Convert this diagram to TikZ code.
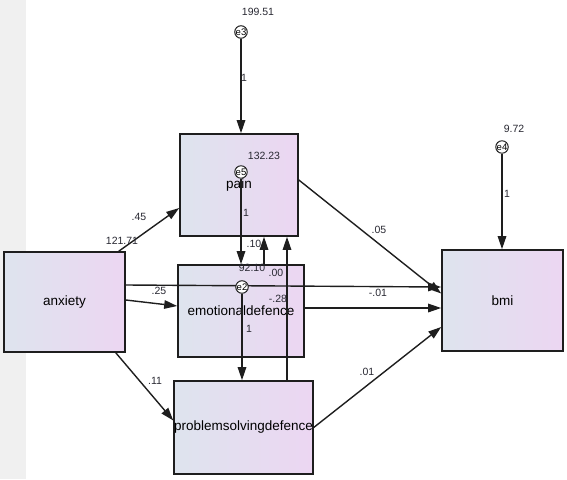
\documentclass[tikz,border=0pt]{standalone}
\usepackage{fontspec}
\setmainfont{Liberation Sans}
\usetikzlibrary{arrows.meta,calc}
\definecolor{amedge}{RGB}{30,30,30}
\definecolor{amleft}{RGB}{222,228,238}
\definecolor{amright}{RGB}{236,214,242}
\definecolor{amstrip}{RGB}{240,240,240}
\definecolor{amnum}{RGB}{40,40,50}
\tikzset{
  var/.style={
    draw=amedge, line width=1.6pt, left color=amleft, right color=amright,
    font=\fontsize{13.5}{15}\selectfont, inner sep=0pt
  },
  err/.style={
    circle, draw=amedge, line width=1pt, fill=white, minimum size=12pt,
    inner sep=0pt, font=\fontsize{9.5}{10}\selectfont
  },
  arr/.style={-{Triangle[length=13pt,width=8.5pt]}, draw=amedge, line width=1.4pt},
  lbl/.style={font=\fontsize{10.5}{12}\selectfont, text=amnum, inner sep=0pt}
}
\begin{document}
\begin{tikzpicture}[x=1pt,y=-1pt]
  \useasboundingbox (0,0) rectangle (567,479);
  \fill[amstrip] (0,0) rectangle (26,479);

  \node[var, minimum width=121pt, minimum height=100pt] (anx) at (64.5,302) {anxiety};
  \node[var, minimum width=118pt, minimum height=102pt] (pain) at (239,185) {pain};
  \node[var, minimum width=126pt, minimum height=92pt] (emo) at (241,311) {emotionaldefence};
  \node[var, minimum width=127pt, minimum height=93pt] (psd) at (243.5,427.5) {problemsolvingdefence};
  \node[var, minimum width=121pt, minimum height=101pt] (bmi) at (502.5,300.5) {bmi};

  \node[err] (e3) at (241,32) {e3};
  \node[err] (e4) at (502,147) {e4};

  \draw[arr] (e3) -- (e3 |- pain.north);
  \draw[arr] (e4) -- (e4 |- bmi.north);
  \draw[arr] ($(anx.north east)+(-7,0)$) -- ($(pain.west)+(0,23)$);
  \draw[arr] ($(anx.east)+(0,-2)$) -- ($(emo.west)+(0,-5)$);
  \draw[arr] ($(anx.east)+(0,-17)$) -- ($(bmi.west)+(0,-13.5)$);
  \draw[arr] ($(anx.south east)+(-10,0)$) -- ($(psd.west)+(0,-7)$);
  \draw[arr] ($(pain.east)+(0,-5)$) -- ($(bmi.west)+(0,-7)$);
  \draw[arr] ($(emo.east)+(0,-3)$) -- ($(bmi.west)+(0,7.5)$);
  \draw[arr] (psd.east) -- ($(bmi.west)+(0,26.5)$);
  \draw[arr] ($(emo.north)+(23,0)$) -- ($(pain.south)+(25,0)$);
  \draw[arr] ($(psd.north)+(43.5,0)$) -- ($(pain.south)+(48,0)$);

  \node[err] (e5) at (241,172) {e5};
  \node[err] (e2) at (242,287) {e2};
  \draw[arr] (e5) -- (e5 |- emo.north);
  \draw[arr] (e2) -- (e2 |- psd.north);

  \node[lbl] at (258,12) {199.51};
  \node[lbl] at (244,78) {1};
  \node[lbl] at (514,129) {9.72};
  \node[lbl] at (507,194) {1};
  \node[lbl] at (264,156) {132.23};
  \node[lbl] at (246,213) {1};
  \node[lbl] at (254,244) {.10};
  \node[lbl] at (252,268) {92.10};
  \node[lbl] at (276,273) {.00};
  \node[lbl] at (278,299) {-.28};
  \node[lbl] at (249,329) {1};
  \node[lbl] at (139,217) {.45};
  \node[lbl] at (122,241) {121.71};
  \node[lbl] at (159,291) {.25};
  \node[lbl] at (155,381) {.11};
  \node[lbl] at (379,230) {.05};
  \node[lbl] at (378,293) {-.01};
  \node[lbl] at (367,372) {.01};
\end{tikzpicture}
\end{document}
